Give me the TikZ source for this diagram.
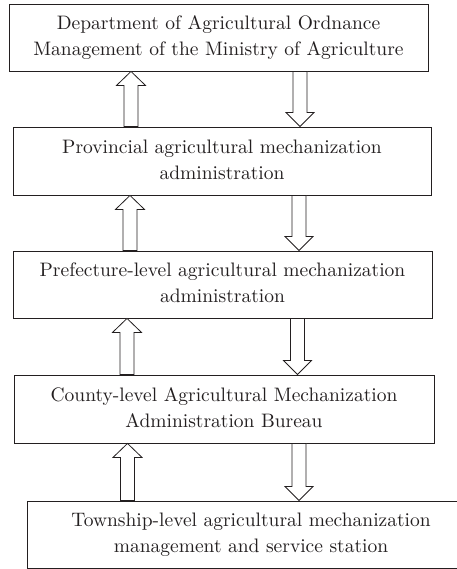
\documentclass[tikz,border=0pt]{standalone}
\usepackage{xcolor}
\usepackage{graphicx}
\usepackage{tikz}
\usetikzlibrary{positioning,calc}

\definecolor{inkgray}{HTML}{231F20}

\tikzset{
  levelbox/.style={draw=inkgray, line width=0.9pt, fill=white, align=center,
    text=inkgray, inner sep=0pt},
  hollow/.style={draw=inkgray, line width=0.8pt, fill=white, line join=miter}
}

% two-line label, set at 10pt and enlarged
\newcommand{\boxtext}[2]{%
  \scalebox{1.95}{\fontsize{10}{12}\selectfont\renewcommand{\arraystretch}{1.11}%
    \begin{tabular}{@{}c@{}}#1\\#2\end{tabular}}}

% hollow block arrows: #1 = tail, #2 = tip
\newcommand{\arrowup}[2]{%
  \draw[hollow] let \p1=(#1), \p2=(#2) in
    (\x1-7pt,\y1) -- (\x1-7pt,\y2-14pt) -- (\x1-14.5pt,\y2-14pt) -- (\x1,\y2)
    -- (\x1+14.5pt,\y2-14pt) -- (\x1+7pt,\y2-14pt) -- (\x1+7pt,\y1) -- cycle;}
\newcommand{\arrowdown}[2]{%
  \draw[hollow] let \p1=(#1), \p2=(#2) in
    (\x1-7pt,\y1) -- (\x1-7pt,\y2+14pt) -- (\x1-14pt,\y2+14pt) -- (\x1,\y2)
    -- (\x1+14pt,\y2+14pt) -- (\x1+7pt,\y2+14pt) -- (\x1+7pt,\y1) -- cycle;}

\begin{document}
\begin{tikzpicture}[x=1pt,y=-1pt]
  \useasboundingbox (0,0) rectangle (456,569);

  % Levels of administration
  \node[levelbox, minimum width=419pt, minimum height=67pt] (b1) at (218.5,37.5)
    {\boxtext{Department of Agricultural Ordnance}{Management of the Ministry of Agriculture}};
  \node[levelbox, minimum width=418pt, minimum height=68pt] (b2) at (222,161)
    {\boxtext{Provincial agricultural mechanization}{administration}};
  \node[levelbox, minimum width=419pt, minimum height=67pt] (b3) at (222.5,284.5)
    {\boxtext{Prefecture-level agricultural mechanization}{administration}};
  \node[levelbox, minimum width=420pt, minimum height=68pt] (b4) at (224,409)
    {\boxtext{County-level Agricultural Mechanization}{Administration Bureau}};
  \node[levelbox, minimum width=448pt, minimum height=67pt] (b5) at (251,534.5)
    {\boxtext{Township-level agricultural mechanization}{management and service station}};

  % Reporting up, instructions down
  \foreach \a/\b/\u/\d in {b1/b2/131/300, b2/b3/130/299, b3/b4/127/297.5, b4/b5/127.5/299} {
    \coordinate (ux) at (\u,0);
    \coordinate (dx) at (\d,0);
    \arrowup{\b.north -| ux}{\a.south -| ux}
    \arrowdown{\a.south -| dx}{\b.north -| dx}
  }
\end{tikzpicture}
\end{document}
